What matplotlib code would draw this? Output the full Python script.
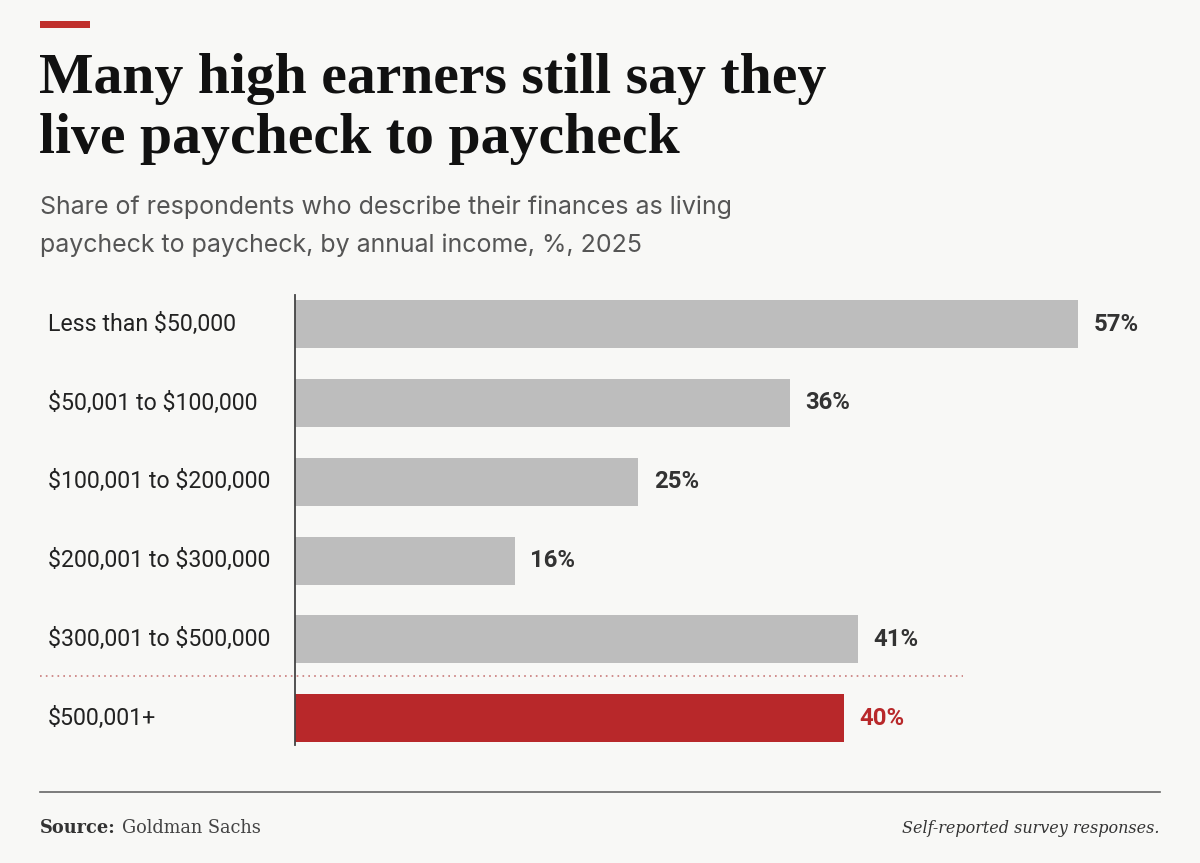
import matplotlib
matplotlib.use("Agg")
import matplotlib.pyplot as plt
from matplotlib.transforms import blended_transform_factory
from matplotlib.patches import Rectangle

categories = ["Less than \\$50,000", "\\$50,001 to \\$100,000", "\\$100,001 to \\$200,000",
              "\\$200,001 to \\$300,000", "\\$300,001 to \\$500,000", "\\$500,001+"]
values = [57, 36, 25, 16, 41, 40]
value_labels = ["57%", "36%", "25%", "16%", "41%", "40%"]
highlight = [False, False, False, False, False, True]

BG = "#f8f8f6"
GRAY = "#bdbdbd"
RED = "#b8282a"

W, H = 1200, 863
fig = plt.figure(figsize=(W / 100, H / 100), dpi=100, facecolor=BG)
renderer = fig.canvas.get_renderer()

def fx(px):
    return px / W

def fy(py):
    return 1 - py / H

def fit_size(text, target_px, **kw):
    t = fig.text(0, 0, text, size=20, **kw)
    w = t.get_window_extent(renderer=renderer).width
    t.remove()
    return 20 * target_px / w

# top red accent
fig.patches.append(Rectangle((fx(40), fy(28)), fx(50), 7 / H, transform=fig.transFigure,
                             facecolor="#c0302c", edgecolor="none"))

# title
tkw = dict(family="Liberation Serif", weight="bold")
ts = fit_size("Many high earners still say they", 788, **tkw)
fig.text(fx(39), fy(93), "Many high earners still say they", va="baseline", size=ts, color="#111111", **tkw)
fig.text(fx(39), fy(153), "live paycheck to paycheck", va="baseline", size=ts, color="#111111", **tkw)

skw = dict(family="Inter")
ss = fit_size("Share of respondents who describe their finances as living", 693, **skw)
fig.text(fx(40), fy(214), "Share of respondents who describe their finances as living", va="baseline",
         size=ss, color="#555555", **skw)
fig.text(fx(40), fy(252), "paycheck to paycheck, by annual income, %, 2025", va="baseline",
         size=ss, color="#555555", **skw)

# axes
ax = fig.add_axes([fx(295), fy(745), fx(1160) - fx(295), (745 - 295) / H])
ax.set_facecolor("none")
pos = list(range(len(categories)))
colors = [RED if h else GRAY for h in highlight]
ax.barh(pos, values, height=0.61, color=colors, edgecolor="none", zorder=2)
xmax = 57 * (1160 - 295) / (1078 - 295)
ax.set_xlim(0, xmax)
ax.set_ylim(5.34, -0.37)
for s in ["top", "right", "bottom"]:
    ax.spines[s].set_visible(False)
ax.spines["left"].set_color("#444444")
ax.spines["left"].set_linewidth(1.3)
ax.set_xticks([])
ax.set_yticks([])

ckw = dict(family="Roboto")
cs = fit_size(categories[0], 188, **ckw)
vkw = dict(family="Roboto", weight="bold")
vs = fit_size("57%", 45, **vkw)

trans = blended_transform_factory(fig.transFigure, ax.transData)
for i, (c, v, lab, h) in enumerate(zip(categories, values, value_labels, highlight)):
    ax.text(fx(48), i, c, transform=trans, ha="left", va="center",
            size=cs, color="#222222", **ckw)
    ax.annotate(lab, (v, i), xytext=(11, 0), textcoords="offset points",
                ha="left", va="center", size=vs,
                color=RED if h else "#333333", **vkw)

# dotted separator
ax.plot([fx(40), fx(963)], [4.47, 4.47], transform=trans, clip_on=False,
        color="#c97a7a", lw=1.2, linestyle=(0, (1, 2.5)), zorder=1)

# bottom rule
fig.add_artist(plt.Line2D([fx(40), fx(1160)], [fy(792), fy(792)], color="#666666", lw=1.2,
                          transform=fig.transFigure))

srckw = dict(family="DejaVu Serif")
t = fig.text(fx(40), fy(833), "Source:", va="baseline", weight="bold", size=12.8,
             color="#333333", **srckw)
fig.canvas.draw()
bb = t.get_window_extent()
fig.text(bb.x1 / W + fx(6), fy(833), "Goldman Sachs", va="baseline",
         size=12.8, color="#444444", **srckw)
ns = fit_size("Self-reported survey responses.", 257, style="italic", **srckw)
fig.text(fx(1160), fy(833), "Self-reported survey responses.", va="baseline", ha="right",
         style="italic", size=ns, color="#333333", **srckw)

fig.savefig("out.png", dpi=100, facecolor=BG)
